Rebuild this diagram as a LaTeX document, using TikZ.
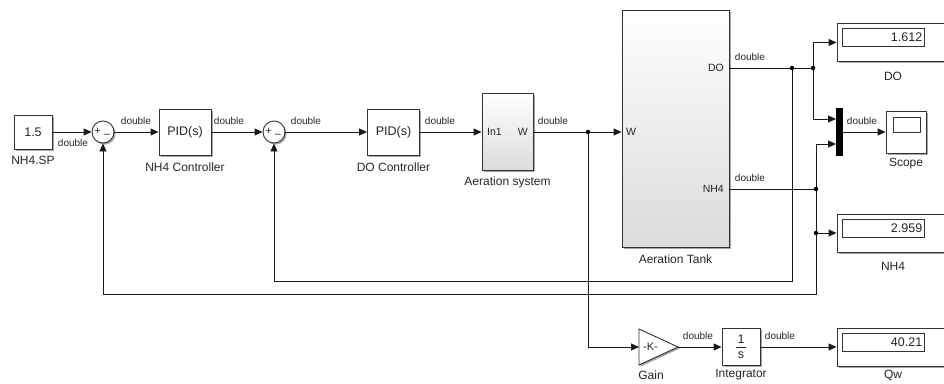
\documentclass[tikz,border=0pt]{standalone}
\usepackage{fontspec}
\setmainfont{Liberation Sans}
\usetikzlibrary{arrows.meta,shadows,calc}
\begin{document}
\begin{tikzpicture}[x=1pt,y=-1pt,
  blk/.style={draw=black!80, line width=0.9pt, fill=white, inner sep=0pt,
    drop shadow={shadow xshift=1.6pt, shadow yshift=-1.6pt, fill=black!35, opacity=1}},
  grad/.style={blk, top color=white, bottom color=black!14},
  sumb/.style={blk, circle, minimum size=22pt},
  sig/.style={draw=black!90, line width=0.9pt, -{Triangle[length=8pt,width=7pt]}},
  wire/.style={draw=black!90, line width=0.9pt},
  lab/.style={font=\fontsize{12}{14}\selectfont, text=black!85, inner sep=0pt},
  dbl/.style={font=\fontsize{10}{12}\selectfont, text=black!85, inner sep=0pt},
  port/.style={font=\fontsize{10.5}{12}\selectfont, text=black!85, inner sep=0pt},
  txt/.style={font=\fontsize{12.5}{14}\selectfont, text=black!85},
  dot/.style={circle, fill=black, inner sep=0pt, minimum size=4.5pt},
  disp/.style={blk, minimum width=113pt, minimum height=38pt},
  dispin/.style={draw=black!80, line width=0.9pt, fill=white, minimum width=82pt, minimum height=18pt, inner sep=0pt},
  sgn/.style={font=\fontsize{11}{12}\selectfont, inner sep=0pt, text=black!85},
]
\useasboundingbox (0,0) rectangle (944,383);
\clip (0,0) rectangle (944,383);

% ---- blocks ----
\node[blk, txt, minimum width=38pt, minimum height=34pt] (c) at (33,132) {1.5};
\node[lab] at (33,160) {NH4.SP};

\node[sumb] (s1) at (103,132) {};
\node[sgn] at (97.5,131.5) {+};
\node[sgn] at (107,136) {–};

\node[blk, txt, minimum width=52pt, minimum height=46pt] (pid1) at (185,132) {PID(s)};
\node[lab] at (185,167) {NH4 Controller};

\node[sumb] (s2) at (274,132) {};
\node[sgn] at (268.5,131.5) {+};
\node[sgn] at (278,136) {–};

\node[blk, txt, minimum width=52pt, minimum height=46pt] (pid2) at (393.5,132) {PID(s)};
\node[lab] at (393.5,167) {DO Controller};

\node[grad, minimum width=51pt, minimum height=77pt] (aer) at (507.5,132) {};
\node[port, anchor=west] at (487,132) {In1};
\node[port, anchor=east] at (528,132) {W};
\node[lab] at (507.5,182) {Aeration system};

\node[grad, minimum width=107pt, minimum height=237pt] (tank) at (675.5,128.5) {};
\node[port, anchor=west] at (626,132) {W};
\node[port, anchor=east] at (724,68) {DO};
\node[port, anchor=east] at (724,189) {NH4};
\node[lab] at (675.5,259) {Aeration Tank};

\node[fill=black, minimum width=7pt, minimum height=48pt, inner sep=0pt] (mux) at (839.5,132) {};
\coordinate (m1) at (836,119);
\coordinate (m2) at (836,144);

\node[blk, minimum width=40pt, minimum height=42pt] (scope) at (906,132) {};
\node[draw=black!80, line width=1pt, minimum width=27pt, minimum height=15pt, inner sep=0pt] (scr) at (906.5,124.5) {};
\node[lab] at (906,164) {Scope};

\node[disp] (dodisp) at (893.5,42.5) {};
\node[dispin] (doin) at (883,37) {};
\node[txt, anchor=east, inner sep=0pt] at ($(doin.east)+(-2,0)$) {1.612};
\node[lab] at (893,76) {DO};

\node[disp] (nhdisp) at (893.5,233) {};
\node[dispin] (nhin) at (883,228) {};
\node[txt, anchor=east, inner sep=0pt] at ($(nhin.east)+(-2,0)$) {2.959};
\node[lab] at (893,266) {NH4};

\node[disp] (qwdisp) at (893.5,347) {};
\node[dispin] (qwin) at (883,342) {};
\node[txt, anchor=east, inner sep=0pt] at ($(qwin.east)+(-2,0)$) {40.21};
\node[lab] at (893,375) {Qw};

% gain triangle
\coordinate (gin) at (639,347);
\coordinate (gout) at (678,347);
\draw[blk] (639,329) -- (gout) -- (639,365) -- cycle;
\node[font=\fontsize{11}{12}\selectfont, text=black!85, inner sep=0pt] at (650.5,347) {-K-};
\node[lab] at (651,375) {Gain};

% integrator
\node[blk, minimum width=38pt, minimum height=37pt] (integ) at (741,347) {};
\node[txt, inner sep=0pt] at (741,339.5) {1};
\draw[black!85, line width=0.8pt] (736,347.5) -- (746,347.5);
\node[txt, inner sep=0pt] at (741,355.5) {s};
\node[lab] at (741,375) {Integrator};

% ---- connectors ----
\draw[sig] (c) -- (s1);
\draw[sig] (s1) -- (pid1);
\draw[sig] (pid1) -- (s2);
\draw[sig] (s2) -- (pid2);
\draw[sig] (pid2) -- (aer);
\draw[sig] (aer.east) -- (tank.west |- aer.east);

\coordinate (b1) at (588,132);
\draw[sig] (b1) |- (gin);
\draw[sig] (gout) -- (integ);
\draw[sig] (integ) -- (qwdisp);

\coordinate (tDO) at (729,68);
\coordinate (j1) at (792,68);
\coordinate (j2) at (813,68);
\coordinate (f2) at (792,281);
\draw[wire] (tDO) -- (j2);
\draw[sig] (j2) |- (dodisp.west);
\draw[sig] (j2) |- (m1);
\draw[sig] (j1) -- (f2) -| (s2.south);

\coordinate (tNH) at (729,189);
\coordinate (j3) at (816,189);
\coordinate (j4) at (816,233);
\coordinate (f1) at (816,294);
\draw[wire] (tNH) -- (j3);
\draw[sig] (j3) |- (m2);
\draw[sig] (j3) -- (f1) -| (s1.south);
\draw[sig] (j4) -- (nhdisp.west);

\draw[sig] (mux.east) -- (scope.west);

\foreach \p in {b1,j1,j2,j3,j4} \node[dot] at (\p) {};

% ---- signal labels ----
\node[dbl] at (73,143) {double};
\node[dbl] at (136,121) {double};
\node[dbl] at (229,121) {double};
\node[dbl] at (306,121) {double};
\node[dbl] at (440,121) {double};
\node[dbl] at (553,121) {double};
\node[dbl] at (750,57) {double};
\node[dbl] at (750,178) {double};
\node[dbl] at (862,121) {double};
\node[dbl] at (698,336) {double};
\node[dbl] at (780,336) {double};
\end{tikzpicture}
\end{document}
